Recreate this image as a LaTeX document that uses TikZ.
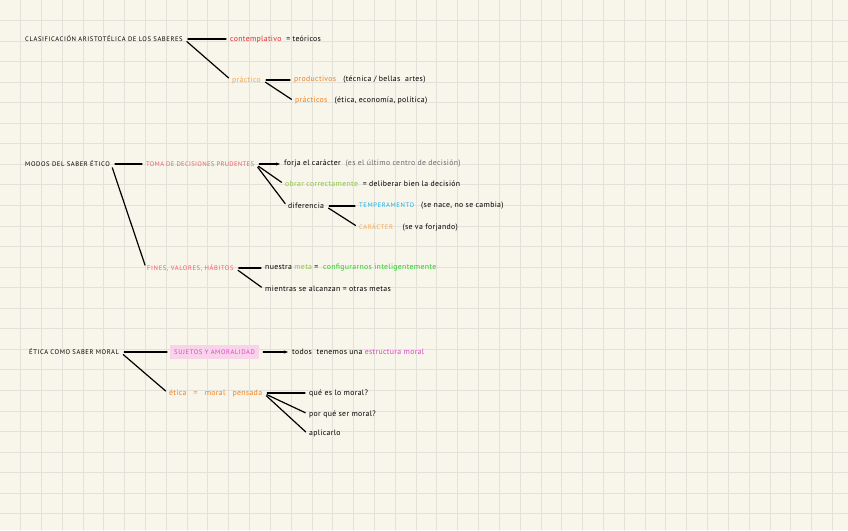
\documentclass[tikz,border=0pt]{standalone}
\usepackage{fontspec}
\setmainfont{PT Sans}
\usetikzlibrary{arrows.meta}

\definecolor{paper}{HTML}{F8F6EA}
\definecolor{gridgray}{HTML}{E2E2DA}
\definecolor{redA}{HTML}{E3262E}
\definecolor{orangeL}{HTML}{F9A64E}
\definecolor{orangeD}{HTML}{F3801C}
\definecolor{rosered}{HTML}{F35C6A}
\definecolor{greenL}{HTML}{8CC63F}
\definecolor{greenB}{HTML}{2CCB2C}
\definecolor{cyanT}{HTML}{27AEE3}
\definecolor{magentaM}{HTML}{D645C6}
\definecolor{pinkbg}{HTML}{F8D3EA}
\definecolor{greytxt}{HTML}{6A6A6A}

\newcommand{\capsfont}{\fontsize{6.6}{8}\selectfont\addfontfeature{LetterSpace=9}}
\newcommand{\lowfont}{\fontsize{7.8}{9}\selectfont\addfontfeature{LetterSpace=4}}

\begin{document}
\begin{tikzpicture}[x=1pt, y=-1pt, line cap=round, line join=round,
  txt/.style={anchor=west, inner sep=1pt, font=\lowfont},
  caps/.style={txt, font=\capsfont},
  branch/.style={black, line width=1.2pt, shorten <=4pt, shorten >=3pt},
  gridline/.style={gridgray, line width=0.9pt}]

% --- paper and squared grid ---
\useasboundingbox (0,0) rectangle (848,530);
\fill[paper] (0,0) rectangle (848,530);
\foreach \k in {0,...,24}
  \draw[gridline] (0,20.5+20.55*\k) -- (848,20.5+20.55*\k);
\foreach \k in {0,...,39}
  \draw[gridline] (20.5+20.82*\k,0) -- (20.5+20.82*\k,530);

% --- block 1: clasificacion aristotelica ---
\node[caps] (clas) at (24,39) {CLASIFICACIÓN ARISTOTÉLICA DE LOS SABERES};
\node[txt] (contemp) at (229,39) {\textcolor{redA}{contemplativo} \ = teóricos};
\node[txt,orangeL] (practico) at (231,80) {práctico};
\node[txt] (productivos) at (293,80) {\textcolor{orangeD}{productivos} \ \ (técnica / bellas \ artes)};
\node[txt] (practicos) at (294,101) {\textcolor{orangeD}{prácticos} \ \ (ética, economía, política)};

\draw[branch] (clas.east) -- (contemp.west);
\draw[branch] (clas.east) -- (practico.west);
\draw[branch] (practico.east) -- (productivos.west);
\draw[branch] (practico.east) -- (practicos.west);

% --- block 2: modos del saber etico ---
\node[caps] (modos) at (24,164) {MODOS DEL SABER ÉTICO};
\node[caps,rosered,font=\fontsize{6.6}{8}\selectfont\addfontfeature{LetterSpace=5}] (toma) at (145,164) {TOMA DE DECISIONES PRUDENTES};
\node[txt] (forja) at (283,164) {forja el carácter \ \textcolor{greytxt}{(es el último centro de decisión)}};
\node[txt] (obrar) at (284,184) {\textcolor{greenL}{obrar correctamente} \ = deliberar bien la decisión};
\node[txt] (diferencia) at (287,206) {diferencia};
\node[txt] (temper) at (358,206) {\textcolor{cyanT}{\capsfont TEMPERAMENTO} \ \ (se nace, no se cambia)};
\node[txt] (caracter) at (358,227) {\textcolor{orangeL}{\capsfont CARÁCTER} \ \ \ (se va forjando)};
\node[caps,rosered] (fines) at (146,268) {FINES, VALORES, HÁBITOS};
\node[txt] (nuestra) at (264,268) {nuestra \textcolor{greenL}{meta} = \ \textcolor{greenB}{configurarnos inteligentemente}};
\node[txt] (mientras) at (264,289) {mientras se alcanzan = otras metas};

\draw[branch] (modos.east) -- (toma.west);
\draw[branch] (modos.east) -- (fines.west);
\draw[branch, -{Stealth[length=4pt]}] (toma.east) -- (forja.west);
\draw[branch] (toma.east) -- (obrar.west);
\draw[branch] (toma.east) -- (diferencia.west);
\draw[branch] (diferencia.east) -- (temper.west);
\draw[branch] (diferencia.east) -- (caracter.west);
\draw[branch] (fines.east) -- (nuestra.west);
\draw[branch] (fines.east) -- (mientras.west);

% --- block 3: etica como saber moral ---
\node[caps] (eticamoral) at (28,352) {ÉTICA COMO SABER MORAL};
\node[caps, fill=pinkbg, text=magentaM, inner xsep=4pt, inner ysep=5pt] (sujetos) at (170,352) {SUJETOS Y AMORALIDAD};
\node[txt] (todos) at (291,352) {todos \ tenemos una \textcolor{magentaM}{estructura moral}};
\node[txt,orangeD] (etica) at (168,393) {ética \ \ = \ \ moral \ \ pensada};
\node[txt] (quees) at (308,393) {qué es lo moral?};
\node[txt] (porque) at (308,414) {por qué ser moral?};
\node[txt] (aplicarlo) at (308,434) {aplicarlo};

\draw[branch] (eticamoral.east) -- (sujetos.west);
\draw[branch] (eticamoral.east) -- (etica.west);
\draw[branch, -{Stealth[length=4pt]}] (sujetos.east) -- (todos.west);
\draw[branch] (etica.east) -- (quees.west);
\draw[branch] (etica.east) -- (porque.west);
\draw[branch] (etica.east) -- (aplicarlo.west);

\end{tikzpicture}
\end{document}
